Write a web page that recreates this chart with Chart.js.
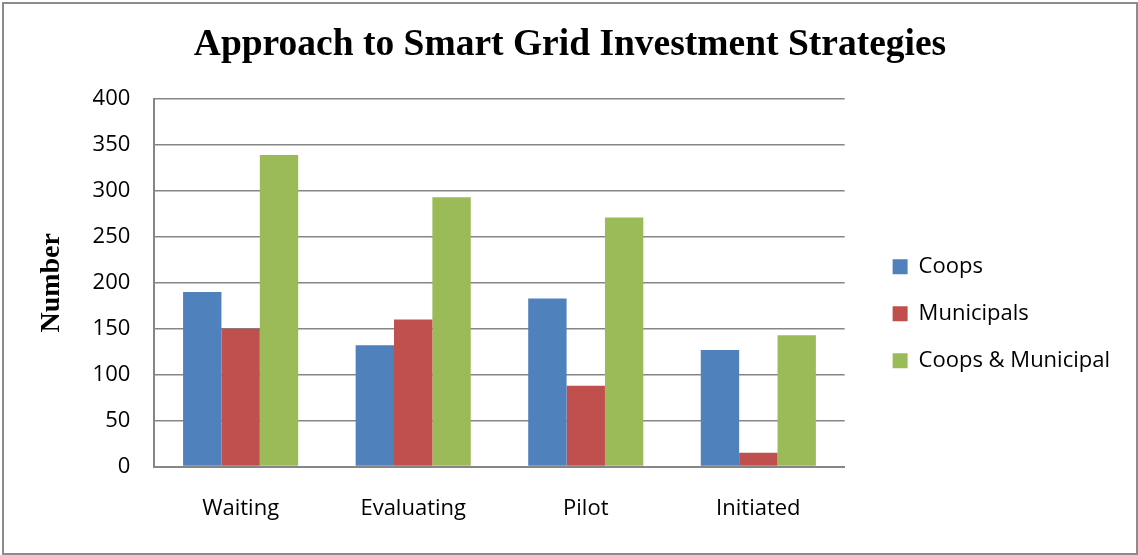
<!DOCTYPE html>
<html>
<head>
<meta charset="utf-8">
<script src="https://cdn.jsdelivr.net/npm/chart.js@4"></script>
<style>
  body { margin: 0; background: #fff; }
  #wrap { position: absolute; left: 2px; top: 2px; width: 1132px; height: 549px; border: 2px solid #8c8c8c; }
  canvas { display: block; }
</style>
</head>
<body>
<div id="wrap"><canvas id="myChart" width="1132" height="549"></canvas></div>
<script>
var categories = ['Waiting', 'Evaluating', 'Pilot', 'Initiated'];
var coops = [190, 132, 183, 127];
var municipals = [150, 160, 88, 15];
var coopsMunicipal = [339, 293, 271, 143];
var yTicks = [0, 50, 100, 150, 200, 250, 300, 350, 400];

var gridColor = '#868686';
var tickFont = { family: 'Open Sans', size: 22 };
var ctx = document.getElementById('myChart').getContext('2d');
var myChart = new Chart(ctx, {
    type: 'bar',
    data: {
        labels: categories,
        datasets: [
            { label: 'Coops', data: coops, backgroundColor: '#4F81BD' },
            { label: 'Municipals', data: municipals, backgroundColor: '#C0504D' },
            { label: 'Coops & Municipal', data: coopsMunicipal, backgroundColor: '#9BBB59' }
        ]
    },
    options: {
        responsive: false,
        animation: false,
        layout: { padding: { top: 4, left: 16, right: 16, bottom: 2 } },
        datasets: { bar: { categoryPercentage: 0.667, barPercentage: 1 } },
        plugins: {
            title: {
                display: true,
                text: 'Approach to Smart Grid Investment Strategies',
                color: '#000',
                font: { family: 'Liberation Serif', size: 37.5, weight: 'bold' },
                padding: { top: 15, bottom: 31 }
            },
            legend: {
                position: 'right',
                title: { display: true, text: ' ', font: { size: 12 }, padding: 27 },
                labels: {
                    color: '#000',
                    boxWidth: 15,
                    boxHeight: 15,
                    padding: 25,
                    font: tickFont
                }
            },
            tooltip: { enabled: false }
        },
        scales: {
            x: {
                grid: { display: false, drawTicks: false },
                border: { color: gridColor, width: 2 },
                ticks: { color: '#000', padding: 29, font: tickFont }
            },
            y: {
                min: 0,
                max: 400,
                afterBuildTicks: function (axis) {
                    axis.ticks = yTicks.map(function (v) { return { value: v }; });
                },
                grid: { color: gridColor, lineWidth: 1.5, drawTicks: false },
                border: { color: gridColor, width: 2 },
                ticks: { color: '#000', padding: 24, font: tickFont },
                title: {
                    display: true,
                    text: 'Number',
                    color: '#000',
                    font: { family: 'Liberation Serif', size: 28, weight: 'bold' },
                    padding: { top: 15, bottom: 0 }
                }
            },
            gap: {
                position: 'right',
                display: false,
                afterFit: function (s) { s.width = 23; }
            }
        }
    }
});
</script>
</body>
</html>
